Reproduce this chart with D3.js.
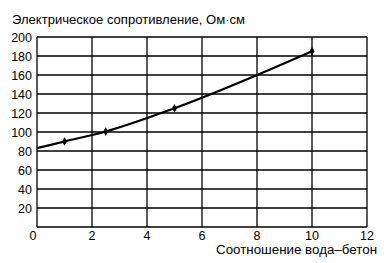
<!DOCTYPE html>
<html><head><meta charset="utf-8">
<script src="https://cdn.jsdelivr.net/npm/d3@7"></script>
<style>body{margin:0;background:#fff}svg{display:block}text{font-family:"Liberation Sans",Arial,sans-serif;fill:#000}</style>
</head><body><svg id="c" width="384" height="263"></svg>
<script>
const ratio = [0, 1, 2.5, 5, 10];
const resistance = [83, 90, 100.5, 125, 185];
const markerFrom = 1;
const xTicks = [0, 2, 4, 6, 8, 10, 12];
const yTicks = [0, 20, 40, 60, 80, 100, 120, 140, 160, 180, 200];

const svg = d3.select("#c");
const m = {l: 37, r: 17, t: 37, b: 36};
const W = 384, H = 263;
const x = d3.scaleLinear().domain([0, 12]).range([m.l, W - m.r]);
const y = d3.scaleLinear().domain([0, 200]).range([H - m.b, m.t]);

// grid
svg.append("g").selectAll("line").data(xTicks).join("line")
  .attr("x1", d => x(d)).attr("x2", d => x(d)).attr("y1", y(0)).attr("y2", y(200))
  .attr("stroke", "#000").attr("stroke-width", 1.3);
svg.append("g").selectAll("line").data(yTicks).join("line")
  .attr("x1", x(0)).attr("x2", x(12)).attr("y1", d => y(d)).attr("y2", d => y(d))
  .attr("stroke", "#000").attr("stroke-width", 1.3);

// tick labels
svg.append("g").selectAll("text").data(yTicks.filter(d => d > 0)).join("text")
  .attr("x", x(0) - 5).attr("y", d => y(d) + 4.5).attr("text-anchor", "end")
  .attr("font-size", 12.5).text(d => d);
svg.append("g").selectAll("text").data(xTicks).join("text")
  .attr("x", d => d === 0 ? x(0) - 4 : x(d)).attr("y", y(0) + 13).attr("text-anchor", "middle")
  .attr("font-size", 12.5).text(d => d);

// titles
svg.append("text").attr("x", 12).attr("y", 24).attr("font-size", 12.5)
  .attr("textLength", 233).attr("lengthAdjust", "spacingAndGlyphs")
  .text("Электрическое сопротивление, Ом·см");
svg.append("text").attr("x", 216).attr("y", y(0) + 27).attr("font-size", 12.5)
  .attr("textLength", 161).attr("lengthAdjust", "spacingAndGlyphs")
  .text("Соотношение вода–бетон");

// series
const pts = ratio.map((r, i) => [r, resistance[i]]);
svg.append("path").datum(pts)
  .attr("d", d3.line().x(d => x(d[0])).y(d => y(d[1])).curve(d3.curveMonotoneX))
  .attr("fill", "none").attr("stroke", "#000").attr("stroke-width", 2.2);
svg.append("g").selectAll("path").data(pts.slice(markerFrom)).join("path")
  .attr("transform", d => `translate(${x(d[0])},${y(d[1])})`)
  .attr("d", d3.symbol(d3.symbolDiamond, 22)).attr("fill", "#000");
</script></body></html>
